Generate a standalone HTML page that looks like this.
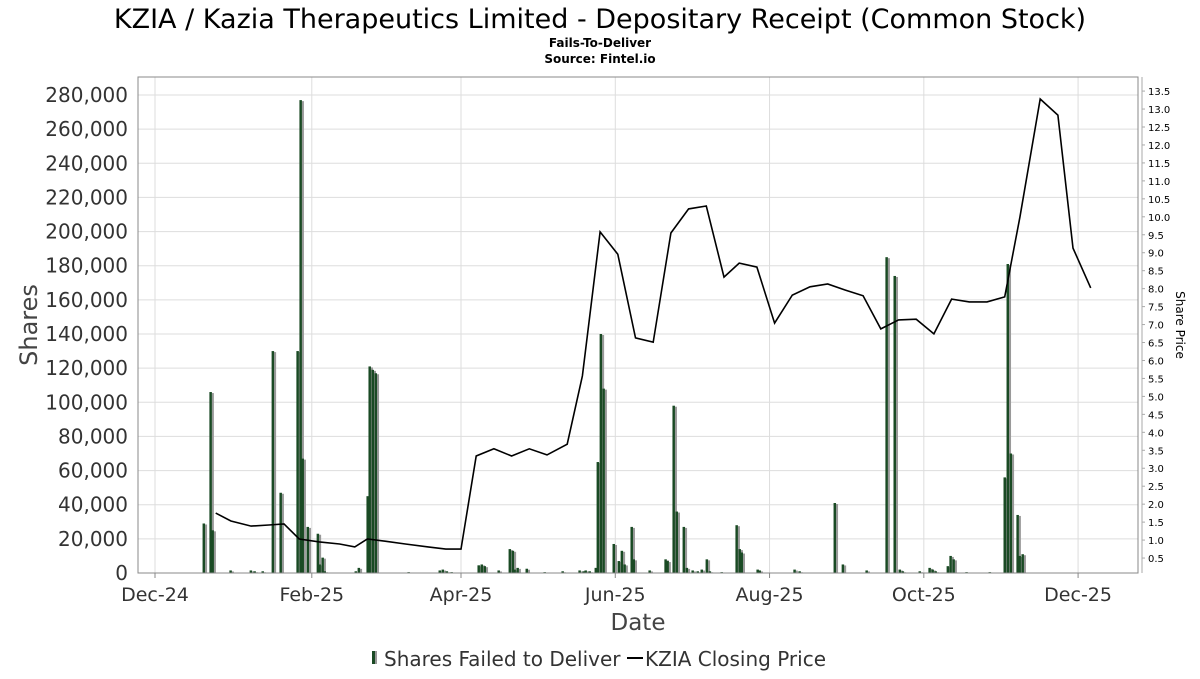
<!DOCTYPE html>
<html><head><meta charset="utf-8"><style>
body{margin:0;background:#fff;font-family:"DejaVu Sans","Liberation Sans",sans-serif;}
svg text{font-family:"DejaVu Sans","Liberation Sans",sans-serif;}
</style></head><body>
<svg id="chart" width="1200" height="675" xmlns="http://www.w3.org/2000/svg">
<rect width="1200" height="675" fill="#fff"/>
<text x="600" y="28" text-anchor="middle" font-size="27" fill="#000">KZIA / Kazia Therapeutics Limited - Depositary Receipt (Common Stock)</text>
<text x="600" y="47" text-anchor="middle" font-size="12" font-weight="bold" fill="#000">Fails-To-Deliver</text>
<text x="600" y="63" text-anchor="middle" font-size="12" font-weight="bold" fill="#000">Source: Fintel.io</text>
<g id="grid"></g>
<g id="bars"></g>
<g id="line"></g>
<rect x="138" y="77" width="1000" height="496" fill="none" stroke="#888" stroke-width="1"/>
<g id="axes"></g>
<text x="638" y="630" text-anchor="middle" font-size="23" fill="#444">Date</text>
<text transform="translate(37,325) rotate(-90)" text-anchor="middle" font-size="24" fill="#444">Shares</text>
<text transform="translate(1176,325) rotate(90)" text-anchor="middle" font-size="12" fill="#000">Share Price</text>
<g>
<g>
<rect x="372" y="651" width="3" height="13" fill="#1a4a24"/><rect x="375" y="651" width="2" height="13" fill="#999"/>
<text x="384" y="666" font-size="20" fill="#333">Shares Failed to Deliver</text></g>
<g>
<line x1="627" y1="658" x2="643" y2="658" stroke="#000" stroke-width="2"/>
<text x="645" y="666" font-size="20" fill="#333">KZIA Closing Price</text></g>
</g>
</svg>
<script>
const barDays=[19.4,22.1,22.9,30,38,39.5,42.7,46.7,49.8,56.5,57.7,58.5,60.5,64.5,65.2,66.4,67.2,79.5,80.7,84.2,85,86.2,87.4,100.4,112.7,113.9,115.5,117.4,128.1,129.3,130.5,136,140.4,141.6,142.3,143.5,147.1,154.2,161.3,168,169.6,170.4,172,174.4,175.2,176.4,177.5,181.5,183.5,184.7,185.8,188.6,189.4,195.7,202,202.8,205.2,206.4,209.2,210.4,212.7,214.7,216.3,218.3,219.5,224.2,230.1,231.3,232.1,238.4,239.2,253,255,268.9,272.1,281.5,289.4,292.6,294.6,295.8,302.5,306.4,307.6,308.8,313.6,314.7,315.9,321,330.2,336.1,337.3,338.5,341.2,342,343.2];
const barShares=[29000,106000,25000,1500,1500,1000,1000,130000,47000,130000,277000,67000,27000,23000,5000,9000,1000,1000,3000,45000,121000,119000,117000,500,1500,2000,1000,500,4500,5000,4000,1500,14000,13000,2000,3000,2500,500,1000,1500,1000,1500,1000,3000,65000,140000,108000,17000,7000,13000,5000,27000,8000,1500,8000,7000,98000,36000,27000,3000,1500,1000,2000,8000,1000,500,28000,14000,12000,2000,1500,2000,1000,41000,5000,1500,185000,174000,2000,1000,1000,3000,2000,1000,4000,10000,8000,500,500,56000,181000,70000,34000,10000,11000];
const priceDays=[24,30,38,45,51,57,65,73,79,84,91,99,108,115,121,127,134,141,148,155,163,169,176,183,190,197,204,211,218,225,231,238,245,252,259,266,273,280,287,294,301,308,315,322,329,336,342,350,357,363,370];
const prices=[1.75,1.53,1.39,1.42,1.45,1.03,0.95,0.89,0.81,1.03,0.97,0.89,0.81,0.75,0.75,3.34,3.54,3.34,3.54,3.37,3.67,5.57,9.58,8.96,6.63,6.51,9.55,10.22,10.30,8.32,8.71,8.60,7.04,7.82,8.05,8.13,7.96,7.80,6.88,7.13,7.15,6.74,7.71,7.63,7.63,7.77,9.99,13.28,12.83,9.13,8.02];
const yTicks=[0,20000,40000,60000,80000,100000,120000,140000,160000,180000,200000,220000,240000,260000,280000];
const xTickDays=[0,62,121,182,243,304,365];
const xTickLabels=["Dec-24","Feb-25","Apr-25","Jun-25","Aug-25","Oct-25","Dec-25"];
const pTicks=[0.5,1,1.5,2,2.5,3,3.5,4,4.5,5,5.5,6,6.5,7,7.5,8,8.5,9,9.5,10,10.5,11,11.5,12,12.5,13,13.5];
const NS="http://www.w3.org/2000/svg";
const X=d=>155+d*2.529;
const Y=v=>573-v*(478/280000);
const P=v=>576-v*35.92;
function mk(t,a,p){const e=document.createElementNS(NS,t);for(const k in a)e.setAttribute(k,a[k]);p.appendChild(e);return e;}
const grid=document.getElementById('grid'),axes=document.getElementById('axes'),bars=document.getElementById('bars'),line=document.getElementById('line');
yTicks.forEach((v,i)=>{
 if(v>0){const g=mk('line',{x1:138,x2:1138,y1:Y(v),y2:Y(v),stroke:'#ddd','stroke-width':1},grid);
 
 }
 const t=mk('text',{x:128,y:Y(v)+7,'text-anchor':'end','font-size':20,fill:'#333'},axes);
 t.textContent=v.toLocaleString('en-US');
 
 
});
xTickDays.forEach((d,i)=>{
 const g=mk('line',{x1:X(d),x2:X(d),y1:77,y2:573,stroke:'#ddd','stroke-width':1},grid);
 
 
 mk('line',{x1:X(d),x2:X(d),y1:573,y2:578,stroke:'#888'},axes);
 const t=mk('text',{x:X(d),y:601,'text-anchor':'middle','font-size':19,fill:'#333'},axes);
 t.textContent=xTickLabels[i];
 
 
});
mk('line',{x1:1142,x2:1142,y1:77,y2:573,stroke:'#aaa'},axes);
pTicks.forEach(v=>{
 mk('line',{x1:1142,x2:1145,y1:P(v),y2:P(v),stroke:'#aaa'},axes);
 const t=mk('text',{x:1148,y:P(v)+4,'font-size':10,fill:'#000'},axes);
 t.textContent=v.toFixed(1);
 
 
});
barDays.forEach((d,i)=>{
 const x=X(d),y=Y(barShares[i]),h=573-y;
 const s=mk('rect',{x:x+1,y:y+1,width:2,height:Math.max(h-1,0),fill:'#999'},bars);
 
 
 const b=mk('rect',{x:x-1.5,y:y,width:2.5,height:h,fill:'#1a4a24'},bars);
 
 
});
const pts=priceDays.map((d,i)=>X(d).toFixed(1)+','+P(prices[i]).toFixed(1)).join(' ');
const pl=mk('polyline',{points:pts,fill:'none',stroke:'#000','stroke-width':1.6},line);


</script>
</body></html>
